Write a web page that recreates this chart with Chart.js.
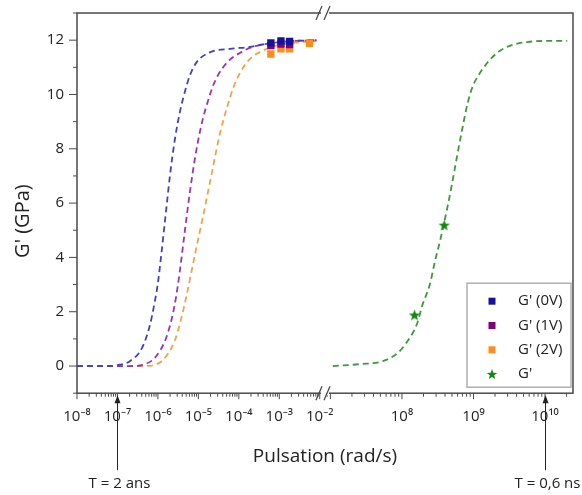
<!DOCTYPE html>
<html>
<head>
<meta charset="utf-8">
<script src="https://cdn.jsdelivr.net/npm/chart.js@4.4.1/dist/chart.umd.min.js"></script>
<style>
  body { margin: 0; background: #fff; }
</style>
</head>
<body>
<canvas id="gChart" width="582" height="495"></canvas>
<script>
// dashed fit curves, left (slow) part of the broken axis
const fit0VX = [1e-8, 6.2e-8, 1.15e-7, 2.03e-7, 4.03e-7, 6.34e-7, 7.96e-7, 1.0e-6, 1.19e-6, 1.41e-6, 1.67e-6, 1.98e-6, 2.63e-6, 3.49e-6, 4.64e-6, 6.17e-6, 9.19e-6, 1.92e-5, 6.0e-5, 1.87e-4, 3.9e-4, 8.7e-4, 8.4e-3];
const fit0VY = [0, 0, 0.05, 0.18, 0.66, 1.5, 2.2, 3.05, 4.0, 5.0, 6.0, 7.0, 8.35, 9.35, 10.1, 10.7, 11.2, 11.55, 11.68, 11.75, 11.84, 11.93, 12.0];

const fit1VX = [1e-8, 2.0e-7, 4.8e-7, 8.4e-7, 1.49e-6, 2.0e-6, 2.48e-6, 3.1e-6, 3.7e-6, 4.4e-6, 5.5e-6, 7.3e-6, 9.72e-6, 1.29e-5, 1.72e-5, 2.28e-5, 3.03e-5, 5.3e-5, 1.06e-4, 2.2e-4, 5.8e-4, 1.82e-3, 8.4e-3];
const fit1VY = [0, 0, 0.07, 0.3, 0.92, 1.5, 2.1, 2.95, 3.8, 4.7, 5.85, 7.15, 8.25, 9.1, 9.75, 10.3, 10.7, 11.2, 11.53, 11.75, 11.88, 11.96, 12.0];

const fit2VX = [1e-8, 4.0e-7, 9.4e-7, 1.77e-6, 2.63e-6, 3.7e-6, 5.2e-6, 6.92e-6, 9.19e-6, 1.22e-5, 1.62e-5, 2.28e-5, 3.4e-5, 5.06e-5, 7.53e-5, 1.12e-4, 1.87e-4, 4.39e-4, 1.22e-3, 8.4e-3];
const fit2VY = [0, 0, 0.07, 0.45, 0.95, 1.7, 2.65, 3.55, 4.45, 5.3, 6.2, 7.3, 8.55, 9.5, 10.3, 10.85, 11.3, 11.65, 11.85, 11.97];

// dashed fit curve, right (fast) part
const fitGX = [1.08e7, 2.57e7, 5.4e7, 8.7e7, 1.2e8, 1.62e8, 1.95e8, 2.45e8, 2.9e8, 3.4e8, 4.3e8, 5.0e8, 5.9e8, 7.1e8, 8.3e8, 9.8e8, 1.23e9, 1.55e9, 2.14e9, 3.2e9, 5.6e9, 1.07e10, 2.04e10];
const fitGY = [0, 0.07, 0.18, 0.48, 0.92, 1.55, 2.28, 3.0, 3.87, 4.6, 5.82, 6.7, 7.73, 8.84, 9.69, 10.31, 10.79, 11.16, 11.53, 11.79, 11.93, 11.97, 11.97];

// measured points
const meas0VX = [6.2e-4, 1.1e-3, 1.8e-3];
const meas0VY = [11.9, 11.97, 11.95];
const meas1VX = [6.2e-4, 1.1e-3, 1.8e-3];
const meas1VY = [11.8, 11.86, 11.84];
const meas2VX = [6.2e-4, 1.1e-3, 1.8e-3, 5.6e-3];
const meas2VY = [11.49, 11.68, 11.68, 11.88];
const measGX = [1.5e8, 3.9e8];
const measGY = [1.88, 5.19];

const legendLabels = ["G' (0V)", "G' (1V)", "G' (2V)", "G'"];

// axes
const leftMin = 1e-8, leftMax = 0.0135;
const rightMin = 8.4e6, rightMax = 2.46e10;
const leftTickValues = [1e-8, 1e-7, 1e-6, 1e-5, 1e-4, 1e-3, 1e-2];
const leftTickLabels = ['10⁻⁸', '10⁻⁷', '10⁻⁶', '10⁻⁵', '10⁻⁴', '10⁻³', '10⁻²'];
const rightTickValues = [1e8, 1e9, 1e10];
const rightTickLabels = ['10⁸', '10⁹', '10¹⁰'];
const yTickValues = [0, 2, 4, 6, 8, 10, 12];
const yTitle = "G' (GPa)";

// period markers under the axis
const markerAxes = ['xl', 'xr'];
const markerValues = [1e-7, 1e10];
const markerTexts = ['T = 2 ans', 'T = 0,6 ns'];

const FONT = "'Open Sans', 'Noto Sans', sans-serif";
const TEXT = '#222';
const AXIS = '#4a4a4a';

function pairs(xs, ys) {
  return xs.map((x, i) => ({ x: x, y: ys[i] }));
}

function drawStar(ctx, cx, cy, R, r, color) {
  ctx.beginPath();
  for (let i = 0; i < 10; i++) {
    const rad = i % 2 === 0 ? R : r;
    const a = -Math.PI / 2 + i * Math.PI / 5;
    const px = cx + rad * Math.cos(a), py = cy + rad * Math.sin(a);
    if (i === 0) ctx.moveTo(px, py); else ctx.lineTo(px, py);
  }
  ctx.closePath();
  ctx.fillStyle = color;
  ctx.fill();
}

const starImg = document.createElement('canvas');
starImg.width = 13; starImg.height = 13;
drawStar(starImg.getContext('2d'), 6.5, 7, 6, 2.5, '#138a13');

function logTicks(min, max) {
  const ticks = [];
  for (let e = Math.floor(Math.log10(min)); e <= Math.ceil(Math.log10(max)); e++) {
    for (let m = 1; m <= 9; m++) {
      const v = parseFloat(m + 'e' + e);
      if (v >= min * 0.999 && v <= max * 1.001) ticks.push({ value: v, major: m === 1 });
    }
  }
  return ticks;
}

function labelFor(values, labels) {
  return function (value) {
    const i = values.findIndex(v => Math.abs(Math.log10(v) - Math.log10(value)) < 1e-6);
    return i >= 0 ? labels[i] : '';
  };
}

// labels hanging over the ends must not shrink the plot area
function noPadding(s) {
  s.paddingLeft = 0; s.paddingRight = 0; s.paddingTop = 0; s.paddingBottom = 0;
}

function xAxis(min, max, values, labels) {
  return {
    type: 'logarithmic',
    position: 'bottom',
    stack: 'pulsation',
    stackWeight: 1,
    min: min,
    max: max,
    border: { display: false },
    grid: { display: false, drawTicks: false },
    afterBuildTicks: s => { s.ticks = logTicks(s.min, s.max); },
    afterFit: s => { s.height = 45; noPadding(s); },
    ticks: {
      autoSkip: false,
      maxRotation: 0,
      minRotation: 0,
      padding: 15,
      color: TEXT,
      font: { family: FONT, size: 15 },
      callback: labelFor(values, labels)
    }
  };
}

// frame, tick marks and axis break
const framePlugin = {
  id: 'frame',
  afterDraw(chart) {
    const ctx = chart.ctx;
    const a = chart.chartArea;
    ctx.save();
    ctx.strokeStyle = AXIS;
    ctx.lineWidth = 1.5;
    ctx.strokeRect(a.left, a.top, a.right - a.left, a.bottom - a.top);

    ctx.lineWidth = 1;
    ctx.beginPath();
    ['xl', 'xr'].forEach(id => {
      const s = chart.scales[id];
      s.ticks.forEach(t => {
        const px = s.getPixelForValue(t.value);
        ctx.moveTo(px, a.bottom);
        ctx.lineTo(px, a.bottom + (t.major ? 6 : 3.5));
      });
    });
    const y = chart.scales.y;
    y.ticks.forEach(t => {
      const py = y.getPixelForValue(t.value);
      ctx.moveTo(a.left, py);
      ctx.lineTo(a.left - (t.value % 2 === 0 ? 8 : 4), py);
    });
    ctx.stroke();

    const bx = chart.scales.xl.right;
    [a.top, a.bottom].forEach(by => {
      ctx.fillStyle = '#fff';
      ctx.fillRect(bx - 4, by - 2, 8, 4);
      ctx.beginPath();
      ctx.lineWidth = 1.3;
      ctx.moveTo(bx - 9, by + 7); ctx.lineTo(bx - 3, by - 7);
      ctx.moveTo(bx - 1, by + 7); ctx.lineTo(bx + 5, by - 7);
      ctx.stroke();
    });
    ctx.restore();
  }
};

// legend box in the lower right corner
const legendColors = ['#14149a', '#800080', '#ff8c1a', '#138a13'];
const legendPlugin = {
  id: 'boxLegend',
  afterDraw(chart) {
    const ctx = chart.ctx;
    const a = chart.chartArea;
    const w = 104, h = 104;
    const left = a.right - 2 - w, top = a.bottom - 6 - h;
    ctx.save();
    ctx.fillStyle = '#fff';
    ctx.fillRect(left, top, w, h);
    ctx.strokeStyle = '#b0b0b0';
    ctx.lineWidth = 1.5;
    ctx.strokeRect(left, top, w, h);
    ctx.font = '15px ' + FONT;
    ctx.textBaseline = 'middle';
    ctx.textAlign = 'left';
    legendLabels.forEach((lab, i) => {
      const cy = top + 18 + i * 24.3;
      const cx = left + 25;
      if (i < 3) {
        ctx.fillStyle = legendColors[i];
        ctx.fillRect(cx - 3.5, cy - 3.5, 7, 7);
      } else {
        drawStar(ctx, cx, cy + 0.5, 5.5, 2.3, legendColors[i]);
      }
      ctx.fillStyle = TEXT;
      ctx.fillText(lab, left + 51, cy);
    });
    ctx.restore();
  }
};

// arrows with period labels, and the y title (set a little below centre as in the original)
const markerPlugin = {
  id: 'periodMarkers',
  afterDraw(chart) {
    const ctx = chart.ctx;
    const a = chart.chartArea;
    const b = a.bottom;
    ctx.save();
    ctx.strokeStyle = TEXT;
    ctx.fillStyle = TEXT;
    ctx.lineWidth = 1;
    ctx.font = '15px ' + FONT;
    ctx.textAlign = 'center';
    ctx.textBaseline = 'middle';
    markerValues.forEach((v, i) => {
      const x = Math.round(chart.scales[markerAxes[i]].getPixelForValue(v)) + 0.5;
      ctx.beginPath();
      ctx.moveTo(x, b + 77);
      ctx.lineTo(x, b + 8);
      ctx.stroke();
      ctx.beginPath();
      ctx.moveTo(x, b + 2);
      ctx.lineTo(x - 3, b + 10);
      ctx.lineTo(x + 3, b + 10);
      ctx.closePath();
      ctx.fill();
      ctx.fillText(markerTexts[i], x + 2, b + 91);
    });

    ctx.translate(23, (a.top + a.bottom) / 2 + 18);
    ctx.rotate(-Math.PI / 2);
    ctx.font = '20px ' + FONT;
    ctx.fillText(yTitle, 0, 0);
    ctx.restore();
  }
};

Chart.defaults.font.family = FONT;

const fitStyle = (color) => ({
  showLine: true,
  borderColor: color,
  borderWidth: 1.8,
  borderDash: [6, 4],
  pointRadius: 0,
  fill: false,
  cubicInterpolationMode: 'monotone'
});

const squareStyle = (color) => ({
  pointStyle: 'rect',
  pointRadius: 5.2,
  backgroundColor: color,
  borderWidth: 0
});

new Chart(document.getElementById('gChart'), {
  type: 'scatter',
  data: {
    datasets: [
      Object.assign({ label: legendLabels[0], data: pairs(meas0VX, meas0VY), xAxisID: 'xl' }, squareStyle('#14149a')),
      Object.assign({ label: legendLabels[1], data: pairs(meas1VX, meas1VY), xAxisID: 'xl' }, squareStyle('#800080')),
      Object.assign({ label: legendLabels[2], data: pairs(meas2VX, meas2VY), xAxisID: 'xl' }, squareStyle('#ff8c1a')),
      { label: legendLabels[3], data: pairs(measGX, measGY), xAxisID: 'xr', pointStyle: starImg, pointRadius: 6 },
      Object.assign({ label: 'fit 0V', data: pairs(fit0VX, fit0VY), xAxisID: 'xl' }, fitStyle('#4040c4')),
      Object.assign({ label: 'fit 1V', data: pairs(fit1VX, fit1VY), xAxisID: 'xl' }, fitStyle('#9a35b0')),
      Object.assign({ label: 'fit 2V', data: pairs(fit2VX, fit2VY), xAxisID: 'xl' }, fitStyle('#f7a04c')),
      Object.assign({ label: 'fit G', data: pairs(fitGX, fitGY), xAxisID: 'xr' }, fitStyle('#3c9a3c'))
    ]
  },
  options: {
    responsive: false,
    animation: false,
    layout: { padding: { top: 13, right: 9, bottom: 27, left: 0 } },
    plugins: {
      legend: { display: false },
      tooltip: { enabled: false },
      title: {
        display: true,
        position: 'bottom',
        fullSize: false,
        text: 'Pulsation (rad/s)',
        color: TEXT,
        font: { family: FONT, size: 19, weight: 'normal' },
        padding: { top: 7, bottom: 0 }
      }
    },
    scales: {
      xl: xAxis(leftMin, leftMax, leftTickValues, leftTickLabels),
      xr: xAxis(rightMin, rightMax, rightTickValues, rightTickLabels),
      y: {
        type: 'linear',
        position: 'left',
        min: -1,
        max: 13,
        border: { display: false },
        grid: { display: false, drawTicks: false },
        afterFit: s => { s.width = 77; noPadding(s); },
        ticks: {
          stepSize: 1,
          padding: 13,
          color: TEXT,
          font: { family: FONT, size: 15 },
          callback: v => yTickValues.includes(v) ? String(v) : ''
        }
      }
    }
  },
  plugins: [framePlugin, legendPlugin, markerPlugin]
});
</script>
</body>
</html>
